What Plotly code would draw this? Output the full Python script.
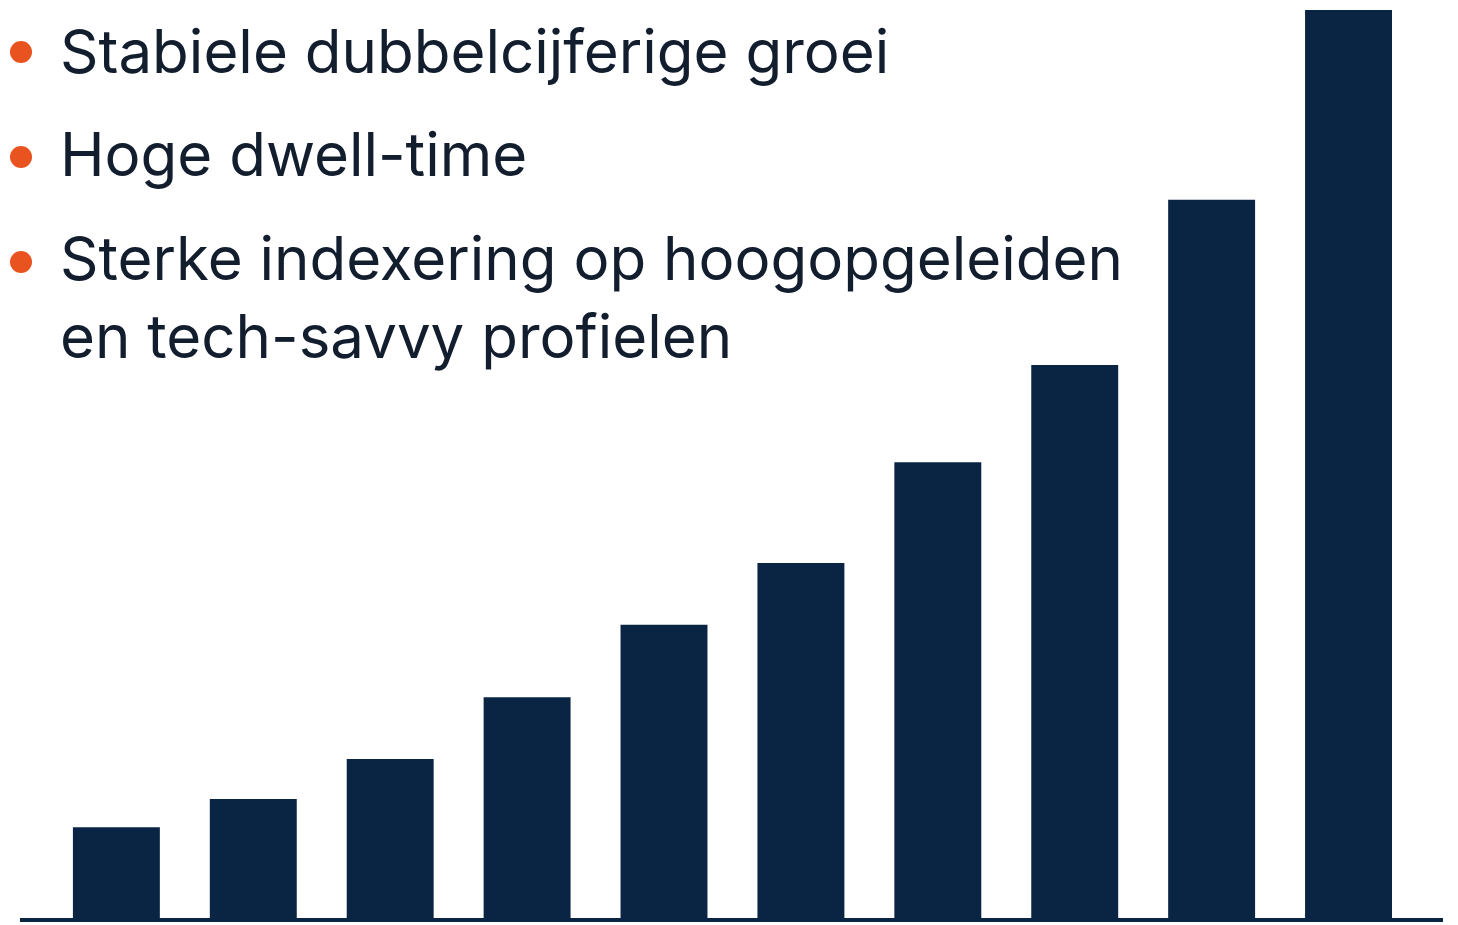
import plotly.graph_objects as go

categories = ["1", "2", "3", "4", "5", "6", "7", "8", "9", "10"]
values = [10.0, 13.1, 17.5, 24.3, 32.3, 39.1, 50.2, 60.9, 79.1, 100.0]
bullet_lines = [
    "Stabiele dubbelcijferige groei",
    "Hoge dwell-time",
    "Sterke indexering op hoogopgeleiden",
    "en tech-savvy profielen",
]

NAVY = "#0a2444"
TEXT = "#121d2e"
ORANGE = "#e8531f"

W, H = 1458, 925
L, R, T, B = 20, 15, 0, 7
pw, ph = W - L - R, H - T - B
FS = 60

def px(x):
    return (x - L) / pw

def py(y):
    return (H - B - y) / ph

fig = go.Figure(go.Bar(x=categories, y=values, marker=dict(color=NAVY, line=dict(width=0))))

fig.update_layout(
    width=W, height=H,
    margin=dict(l=L, r=R, t=T, b=B),
    paper_bgcolor="white", plot_bgcolor="white",
    bargap=0.365, showlegend=False,
    xaxis=dict(range=[-0.704, 9.69], showticklabels=False, showgrid=False, zeroline=False,
               showline=True, linecolor=NAVY, linewidth=4, ticks=""),
    yaxis=dict(range=[0, 101.1], visible=False),
)

baselines = [76, 179, 283, 361]
annotations = []
for text, base in zip(bullet_lines, baselines):
    annotations.append(dict(
        x=px(58), y=py(base - 0.41 * FS), xref="paper", yref="paper",
        xanchor="left", yanchor="middle", text=text, showarrow=False,
        font=dict(family="Inter", size=FS, color=TEXT),
    ))
fig.update_layout(annotations=annotations)

for cy in [52, 157, 262]:
    fig.add_shape(type="circle", xref="paper", yref="paper",
                  x0=px(21 - 11), x1=px(21 + 11), y0=py(cy + 11), y1=py(cy - 11),
                  fillcolor=ORANGE, line=dict(width=0))

fig.write_html("out.html", config={"displayModeBar": False},
               post_script="document.body.style.margin='0';")
